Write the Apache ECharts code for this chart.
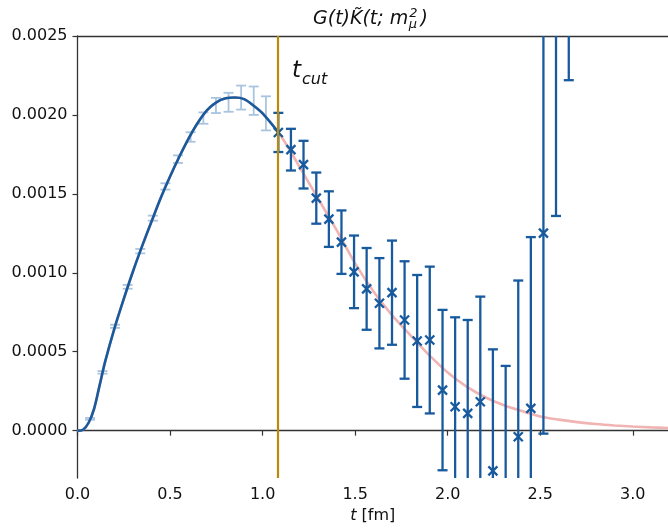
<!DOCTYPE html>
<html>
<head>
<meta charset="utf-8">
<script src="https://cdn.jsdelivr.net/npm/echarts@6/dist/echarts.min.js"></script>
<style>
    html, body { margin: 0; padding: 0; background: #fff; }
    #chart { width: 668px; height: 528px; }
</style>
</head>
<body>
<div id="chart"></div>
<script>
// points before the cut (light)
var lightT = [0.068, 0.135, 0.203, 0.271, 0.339, 0.407, 0.475, 0.543, 0.611, 0.680, 0.748, 0.816, 0.884, 0.952, 1.018];
var lightV = [0.000075, 0.000369, 0.000661, 0.000911, 0.001137, 0.001346, 0.001547, 0.00172, 0.00186, 0.00198, 0.00206, 0.00208, 0.00211, 0.00209, 0.00201];
var lightE = [0.000006, 0.000008, 0.00001, 0.000012, 0.000014, 0.000016, 0.00002, 0.000024, 0.00003, 0.000036, 0.000048, 0.00006, 0.000076, 0.00009, 0.000108];

// points after the cut (dark, with x markers)
var darkT = [1.085, 1.153, 1.221, 1.290, 1.358, 1.426, 1.494, 1.562, 1.631, 1.699, 1.767, 1.835, 1.903, 1.972, 2.040, 2.108, 2.176, 2.244, 2.313, 2.381, 2.449, 2.517, 2.585, 2.654];
var darkV = [0.001889, 0.00178, 0.001685, 0.001473, 0.00134, 0.001194, 0.001006, 0.000898, 0.000807, 0.000874, 0.000701, 0.000568, 0.000574, 0.000257, 0.000151, 0.000109, 0.000183, -0.000255, -0.00034, -0.000039, 0.000141, 0.001251, 0.0028, 0.0039];
var darkE = [0.000124, 0.000132, 0.000151, 0.000162, 0.000176, 0.000201, 0.00023, 0.000259, 0.000286, 0.00033, 0.000372, 0.000418, 0.000465, 0.000508, 0.000567, 0.000592, 0.000666, 0.00077, 0.00075, 0.00099, 0.001085, 0.00127, 0.00144, 0.00168];

// fitted curve
var curveT = [0, 0.03, 0.06, 0.09, 0.12, 0.15, 0.2, 0.25, 0.3, 0.35, 0.4, 0.45, 0.5, 0.55, 0.6, 0.65, 0.7, 0.75, 0.8, 0.85, 0.9, 0.95, 1.0, 1.085,
    1.15, 1.2, 1.25, 1.3, 1.35, 1.4, 1.5, 1.6, 1.7, 1.8, 1.9, 2.0, 2.1, 2.2, 2.3, 2.4, 2.5, 2.6, 2.7, 2.8, 2.9, 3.0, 3.1, 3.19];
var curveV = [0, 0.000006, 0.00005, 0.00014, 0.00029, 0.00044, 0.00065, 0.000835, 0.00101, 0.001172, 0.001325, 0.001475, 0.00161, 0.001735, 0.00185, 0.00195, 0.00203, 0.00208, 0.002105, 0.00211, 0.0021, 0.00206, 0.00201, 0.00189,
    0.00177, 0.00167, 0.00157, 0.00147, 0.00137, 0.00127, 0.00106, 0.00088, 0.00073, 0.000602, 0.000478, 0.000368, 0.00028, 0.000213, 0.000162, 0.000124, 0.00009, 0.00007, 0.000054, 0.000042, 0.000033, 0.000026, 0.000021, 0.000017];

var tCut = 1.085;
var xTicks = [0, 0.5, 1.0, 1.5, 2.0, 2.5, 3.0];
var yTicks = [0, 0.0005, 0.001, 0.0015, 0.002, 0.0025];

var DARK = '#175a9e';
var LIGHT = '#a9c4df';
var PINK = '#f2b3b3';
var GOLD = '#bc8a0a';
var AXIS = '#333';
var FONT = 'DejaVu Sans';

function zip3(a, b, c) {
    var out = [];
    for (var i = 0; i < a.length; i++) out.push([a[i], b[i], c[i]]);
    return out;
}

function zip2(a, b) {
    var out = [];
    for (var i = 0; i < a.length; i++) out.push([a[i], b[i]]);
    return out;
}

function textWidth(str, font) {
    var ctx = document.createElement('canvas').getContext('2d');
    ctx.font = font;
    return ctx.measureText(str).width;
}

/**
 * error bar with caps, optional x marker, clipped to the grid
 */
function errorBarRenderer(color, lineWidth, capHalf, markerHalf) {
    return function (params, api) {
        var t = api.value(0), v = api.value(1), e = api.value(2);
        var cs = params.coordSys;
        var top = cs.y, bottom = cs.y + cs.height;
        var p = api.coord([t, v]);
        var hi = api.coord([t, v + e]);
        var lo = api.coord([t, v - e]);
        var x = p[0];
        var style = {stroke: color, lineWidth: lineWidth, fill: null};
        var children = [];
        var y1 = Math.max(hi[1], top), y2 = Math.min(lo[1], bottom);
        if (y2 > y1) {
            children.push({type: 'line', shape: {x1: x, y1: y1, x2: x, y2: y2}, style: style});
        }
        if (hi[1] >= top && hi[1] <= bottom) {
            children.push({type: 'line', shape: {x1: x - capHalf, y1: hi[1], x2: x + capHalf, y2: hi[1]}, style: style});
        }
        if (lo[1] >= top && lo[1] <= bottom) {
            children.push({type: 'line', shape: {x1: x - capHalf, y1: lo[1], x2: x + capHalf, y2: lo[1]}, style: style});
        }
        if (markerHalf && p[1] >= top && p[1] <= bottom) {
            children.push({type: 'line', shape: {x1: x - markerHalf, y1: p[1] - markerHalf, x2: x + markerHalf, y2: p[1] + markerHalf}, style: style});
            children.push({type: 'line', shape: {x1: x - markerHalf, y1: p[1] + markerHalf, x2: x + markerHalf, y2: p[1] - markerHalf}, style: style});
        }
        return {type: 'group', children: children};
    };
}

var nCut = curveT.indexOf(tCut) + 1;

// title pieces: G(t)K~(t; m ^2 _mu )
var titleFont = 'italic 19px "' + FONT + '"';
var smallFont = 'italic 13px "' + FONT + '"';
var titleMain = 'G(t)K\u0303(t; m';
var w1 = textWidth(titleMain, titleFont);
var wSub = textWidth('\u03bc', smallFont);
var titleLeft = 313;

var tFont = 'italic 23px "' + FONT + '"';
var wT = textWidth('t', tFont);

var chart = echarts.init(document.getElementById('chart'), null, {renderer: 'canvas'});
var option = {
    animation: false,
    backgroundColor: '#fff',
    grid: {left: 77.5, top: 36, right: 0, bottom: 50, containLabel: false, outerBoundsMode: 'none'},
    xAxis: [
        {
            type: 'value',
            min: 0,
            max: 3.19,
            name: '{i|t} [fm]',
            nameLocation: 'middle',
            nameGap: 30,
            nameTextStyle: {
                fontFamily: FONT, fontSize: 16, color: '#111',
                rich: {i: {fontFamily: FONT, fontSize: 16, fontStyle: 'italic', color: '#111'}}
            },
            axisLine: {lineStyle: {color: AXIS, width: 1.3}},
            axisTick: {length: 5, lineStyle: {color: AXIS, width: 1.2}, customValues: xTicks},
            axisLabel: {
                customValues: xTicks,
                margin: 9,
                fontFamily: FONT, fontSize: 16, color: '#111',
                formatter: function (v) { return v.toFixed(1); }
            },
            splitLine: {show: false}
        },
        {
            type: 'value',
            position: 'top',
            min: 0,
            max: 3.19,
            axisLine: {lineStyle: {color: AXIS, width: 1.3}},
            axisTick: {show: false},
            axisLabel: {show: false},
            splitLine: {show: false}
        }
    ],
    yAxis: {
        type: 'value',
        min: -0.0003,
        max: 0.0025,
        axisLine: {show: true, lineStyle: {color: AXIS, width: 1.3}},
        axisTick: {show: true, length: 5, lineStyle: {color: AXIS, width: 1.2}, customValues: yTicks},
        axisLabel: {
            customValues: yTicks,
            margin: 10,
            fontFamily: FONT, fontSize: 16, color: '#111',
            formatter: function (v) { return v.toFixed(4); }
        },
        splitLine: {show: false}
    },
    series: [
        {
            name: 'light',
            type: 'custom',
            z: 1,
            renderItem: errorBarRenderer(LIGHT, 1.8, 5, 0),
            encode: {x: 0, y: 1},
            data: zip3(lightT, lightV, lightE)
        },
        {
            name: 'fit',
            type: 'line',
            z: 2,
            smooth: 0.3,
            showSymbol: false,
            clip: true,
            lineStyle: {color: PINK, width: 2.6},
            data: zip2(curveT, curveV),
            markLine: {
                silent: true,
                symbol: ['none', 'none'],
                label: {show: false},
                lineStyle: {color: GOLD, width: 2.2, type: 'solid'},
                data: [{xAxis: tCut}]
            }
        },
        {
            name: 'fit below cut',
            type: 'line',
            z: 3,
            smooth: 0.3,
            showSymbol: false,
            lineStyle: {color: DARK, width: 2.6},
            data: zip2(curveT.slice(0, nCut), curveV.slice(0, nCut))
        },
        {
            name: 'dark',
            type: 'custom',
            z: 4,
            renderItem: errorBarRenderer(DARK, 2.3, 5, 4.5),
            encode: {x: 0, y: 1},
            data: zip3(darkT, darkV, darkE)
        }
    ],
    graphic: [
        {type: 'text', left: titleLeft, top: 10, style: {text: titleMain, font: titleFont, fill: '#111'}},
        {type: 'text', left: titleLeft + w1 + 1, top: 7, style: {text: '2', font: smallFont, fill: '#111'}},
        {type: 'text', left: titleLeft + w1 + 0.5, top: 18, style: {text: '\u03bc', font: smallFont, fill: '#111'}},
        {type: 'text', left: titleLeft + w1 + wSub + 4, top: 10, style: {text: ')', font: titleFont, fill: '#111'}},
        {type: 'text', left: 292, top: 60, style: {text: 't', font: tFont, fill: '#111'}},
        {type: 'text', left: 292 + wT + 1, top: 72, style: {text: 'cut', font: 'italic 16px "' + FONT + '"', fill: '#111'}}
    ]
};
chart.setOption(option);
</script>
</body>
</html>
